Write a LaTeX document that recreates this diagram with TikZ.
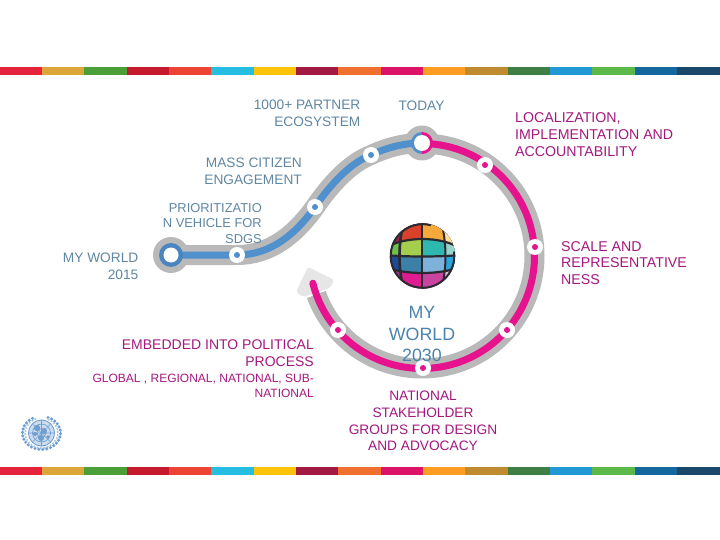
\documentclass[tikz,border=0pt]{standalone}
\usepackage{fontspec}
\setmainfont{Liberation Sans}
\definecolor{bandgrey}{HTML}{B9B9B9}
\definecolor{endgrey}{HTML}{E6E6E6}
\definecolor{pathblue}{HTML}{4F90CD}
\definecolor{ringblue}{HTML}{4A85C0}
\definecolor{pathpink}{HTML}{E6128E}
\definecolor{txtblue}{HTML}{5F87A3}
\definecolor{txtpink}{HTML}{A3197F}
\definecolor{txtbig}{HTML}{4A84AD}
\definecolor{unblue}{HTML}{6F9FD2}
\definecolor{globedark}{HTML}{2A2A30}
\tikzset{
  lbl/.style={inner sep=0pt,font=\fontsize{13.7}{16.7}\selectfont},
  lblwide/.style={inner sep=0pt,font=\fontsize{14.2}{16.7}\selectfont},
  lblsmall/.style={inner sep=0pt,font=\fontsize{12.9}{15.6}\selectfont},
  lbltiny/.style={inner sep=0pt,font=\fontsize{12}{15.6}\selectfont},
  band/.style={draw=bandgrey,line width=20pt},
  blueline/.style={draw=pathblue,line width=7pt},
  pinkline/.style={draw=pathpink,line width=7pt}
}
\newcommand{\colorbar}[1]{%
  \foreach \xa/\xb/\cc in {0/42/E5243B,42/84/DDA63A,84/127/4C9F38,127/169/C5192D,169/211/EE4433,211/254/26BDE2,254/296/FCC30B,296/338/A21942,338/381/F07030,381/423/DD1367,423/465/FD9D24,465/508/BF8B2E,508/550/3F7E44,550/592/2298D5,592/635/5DB84A,635/677/14689D,677/720/19486A}{%
    \definecolor{barc}{HTML}{\cc}%
    \fill[barc] (\xa,#1) rectangle (\xb,#1+8);}}
\newcommand{\globerow}[4]{%
  \definecolor{ca}{HTML}{#1}\definecolor{cb}{HTML}{#2}\definecolor{cc}{HTML}{#3}\definecolor{cd}{HTML}{#4}%
  \fill[ca] (385,220) rectangle (460,292);
  \fill[cb] (404,220) .. controls (398,245) and (398,267) .. (404,292) -- (460,292) -- (460,220) -- cycle;
  \fill[cc] (422,220) -- (422,292) -- (460,292) -- (460,220) -- cycle;
  \fill[cd] (441,220) .. controls (447,245) and (447,267) .. (441,292) -- (460,292) -- (460,220) -- cycle;}
\begin{document}
\begin{tikzpicture}[x=1pt,y=-1pt]
\useasboundingbox (0,0) rectangle (720,540);
\fill[white] (0,0) rectangle (720,540);
\colorbar{67}
\colorbar{467}
% named stops
\coordinate (start) at (171,255);
\coordinate (s1) at (237,255);
\coordinate (s2) at (315,207);
\coordinate (s3) at (371,155);
\coordinate (today) at (422,143);
\coordinate (s4) at (485,165);
\coordinate (s5) at (535,247);
\coordinate (s6) at (507,330);
\coordinate (s7) at (423,368);
\coordinate (s8) at (338,330);
% grey band
\fill[bandgrey] (start) circle[radius=18];
\fill[bandgrey] (today) circle[radius=17.5];
\draw[band] (start) -- (s1) .. controls (270,255) and (295,235) .. (s2) .. controls (330,185) and (350,163) .. (s3) .. controls (388,147) and (405,143) .. (today);
\draw[band] plot[domain=-90:160,samples=90,smooth] ({422+112.5*cos(\x)},{256+112.5*sin(\x)});
% light arrow end
\fill[endgrey,rounded corners=2pt] (308,267) -- (334,280) -- (330,288) -- (303,297) -- (296,292) -- cycle;
% coloured lines
\draw[blueline] (start) -- (s1) .. controls (270,255) and (295,235) .. (s2) .. controls (330,185) and (350,163) .. (s3) .. controls (388,147) and (405,143) .. (today);
\draw[pinkline,line cap=round] plot[domain=-90:166,samples=90,smooth] ({422+112.5*cos(\x)},{256+112.5*sin(\x)});
% start ring
\fill[ringblue] (start) circle[radius=12];
\fill[white] (start) circle[radius=7.5];
% today ring
\fill[pathblue] (422,132) .. controls (416,132) and (411,137) .. (411,143) .. controls (411,149) and (416,154) .. (422,154) -- cycle;
\fill[pathpink] (422,154) -- (422,132) .. controls (428,132) and (433,137) .. (433,143) .. controls (433,149) and (428,154) .. (422,154) -- cycle;
\fill[white] (today) circle[radius=8];
% stops
\foreach \p/\c in {s1/pathblue,s2/pathblue,s3/pathblue,s4/pathpink,s5/pathpink,s6/pathpink,s7/pathpink,s8/pathpink}{
  \fill[white] (\p) circle[radius=8];
  \fill[\c] (\p) circle[radius=3];
}
% globe
\begin{scope}
\clip (422.5,256) circle[radius=32.5];
\globerow{A53A9A}{DE1C8F}{C9449F}{E3BBD0}
\begin{scope}
\clip (385,220) -- (460,220) -- (460,267) .. controls (440,275) and (405,275) .. (385,267) -- cycle;
\globerow{1F4A94}{3C80A8}{7FB2DA}{2AA4DC}
\end{scope}
\begin{scope}
\clip (385,220) -- (460,220) -- (460,255) .. controls (440,257) and (405,257) .. (385,255) -- cycle;
\globerow{6EC04A}{A6CE4E}{2FB8B0}{97D5CC}
\end{scope}
\begin{scope}
\clip (385,220) -- (460,220) -- (460,248) .. controls (440,236) and (405,236) .. (385,248) -- cycle;
\globerow{A51E4E}{D9412B}{F6A93B}{F6E29A}
\end{scope}
\draw[globedark,line width=2.6pt] (404,220) .. controls (398,245) and (398,267) .. (404,292);
\draw[globedark,line width=2.6pt] (422,220) -- (422,292);
\draw[globedark,line width=2pt] (441,220) .. controls (447,245) and (447,267) .. (441,292);
\draw[globedark,line width=2.2pt] (385,248) .. controls (405,236) and (440,236) .. (460,248);
\draw[globedark,line width=2.2pt] (385,255) .. controls (405,257) and (440,257) .. (460,255);
\draw[globedark,line width=2.2pt] (385,267) .. controls (405,275) and (440,275) .. (460,267);
\end{scope}
\draw[globedark,line width=2pt] plot[domain=-8:285,samples=50,smooth] ({422.5+31.8*cos(\x)},{256+31.8*sin(\x)});
% UN emblem
\fill[unblue!35] (41.5,433) circle[radius=13.5];
\draw[unblue,line width=.8pt] (41.5,433) circle[radius=13];
\draw[unblue,line width=.7pt] (41.5,433) circle[radius=9];
\draw[unblue,line width=.7pt] (41.5,433) circle[radius=4.5];
\draw[unblue,line width=.6pt] (28.5,433) -- (54.5,433) (41.5,420) -- (41.5,446) (32.3,423.8) -- (50.7,442.2) (50.7,423.8) -- (32.3,442.2);
\fill[unblue] (37,428) circle[radius=3.2] (44,431) circle[radius=3] (41,438) circle[radius=3] (35,434) circle[radius=2] (48,437) circle[radius=1.8];
\foreach \a in {-70,-58,...,250}{
  \fill[unblue] ({41.5+19*cos(\a)},{433+16.5*sin(\a)}) circle[radius=1.7];
  \fill[unblue!60] ({41.5+16.2*cos(\a+6)},{433+15*sin(\a+6)}) circle[radius=1.2];
}
% labels
\node[lbl,text=txtblue,align=right,anchor=east] (partner) at (360.5,113.5) {1000+ PARTNER\\ECOSYSTEM};
\node[lbl,text=txtblue,anchor=center] (todaylbl) at (421.5,106) {TODAY};
\node[lblwide,text=txtpink,align=left,anchor=west] (local) at (515,134.5) {LOCALIZATION,\\IMPLEMENTATION AND\\ACCOUNTABILITY};
\node[lbl,text=txtblue,align=right,anchor=east] (mass) at (302,171.5) {MASS CITIZEN\\ENGAGEMENT};
\node[lblsmall,text=txtblue,align=right,anchor=east] (prior) at (262,223.5) {PRIORITIZATIO\\N VEHICLE FOR\\SDGS};
\node[lbl,text=txtblue,align=right,anchor=east] (w2015) at (138.5,266) {MY WORLD\\2015};
\node[lblwide,text=txtpink,align=left,anchor=west] (scale) at (561,263) {SCALE AND\\REPRESENTATIVE\\NESS};
\node[inner sep=0pt,text=txtbig,align=center,font=\fontsize{17.8}{21.8}\selectfont] (w2030) at (422,334) {MY\\WORLD\\2030};
\node[inner sep=0pt,text=txtpink,align=right,anchor=east,font=\fontsize{14}{16.7}\selectfont] (embed) at (314,353) {EMBEDDED INTO POLITICAL\\PROCESS};
\node[lbltiny,text=txtpink,align=right,anchor=east] (globallbl) at (314,386) {GLOBAL , REGIONAL, NATIONAL, SUB-\\NATIONAL};
\node[lbl,text=txtpink,align=center] (national) at (423,421) {NATIONAL\\STAKEHOLDER\\GROUPS FOR DESIGN\\AND ADVOCACY};
\end{tikzpicture}
\end{document}
